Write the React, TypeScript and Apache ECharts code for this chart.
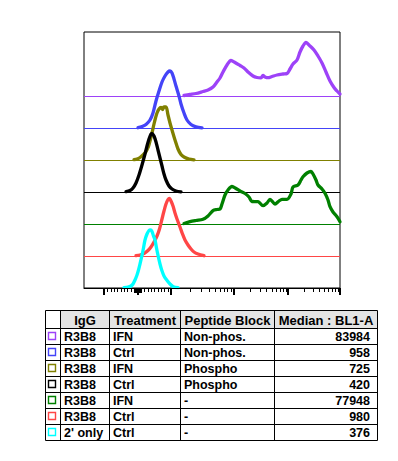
import React, { useEffect, useRef } from "react";
import * as echarts from "echarts";

// ---------- table data ----------
const tableHeaders = ["IgG", "Treatment", "Peptide Block", "Median : BL1-A"];
const igg = ["R3B8", "R3B8", "R3B8", "R3B8", "R3B8", "R3B8", "2' only"];
const treatment = ["IFN", "Ctrl", "IFN", "Ctrl", "IFN", "Ctrl", "Ctrl"];
const peptideBlock = ["Non-phos.", "Non-phos.", "Phospho", "Phospho", "-", "-", "-"];
const medianBL1A = [83984, 958, 725, 420, 77948, 980, 376];

// ---------- histogram data (x: display channel 0..256, y: counts scaled) ----------
const seriesColors = ["#9D42F8", "#4444F8", "#808000", "#000000", "#008000", "#FF4646", "#00FFFF"];
const seriesOffsets = [192, 160, 128, 96, 64, 32, 0];

const purpleCurve: number[][] = [
  [100, 0.5], [106, 1.5], [112, 2.5], [119, 4.5], [124, 6], [129, 9], [133, 14], [136, 18], [139, 24],
  [143, 31], [147, 35.5], [151, 33.5], [156, 30.5], [160, 28], [164, 24], [169, 20], [173, 18.5],
  [177, 18.2], [179, 20.5], [181, 19], [184, 18.3], [188, 19.5], [193, 21], [199, 22], [203, 22.5],
  [206, 27], [209, 32], [213, 36], [216, 44], [219, 50], [222, 53.5], [226, 50], [230, 46], [234, 40],
  [238, 33], [242, 24], [246, 15], [250, 8.5], [253, 5], [256, 2],
];
const blueCurve: number[][] = [
  [54, 0.3], [58, 1.5], [62, 3.5], [66, 8], [69, 15], [72, 27], [75, 37], [78, 46], [81, 52], [84, 56],
  [86, 57], [88, 55], [90, 49], [92, 42], [95, 32], [97, 24], [100, 15], [103, 8], [107, 3.5],
  [112, 1.2], [118, 0.2],
];
const oliveCurve: number[][] = [
  [50, 0.3], [53, 1], [56, 2.5], [59, 5], [62, 8.5], [64.5, 13.5], [66, 19], [68, 27], [70, 36],
  [71.5, 42], [73, 47], [75, 51], [77, 52.5], [78.5, 50.5], [80, 53], [82, 53], [84, 45], [86, 37],
  [88, 30], [91, 20], [94, 11], [97, 5.5], [100, 3], [105, 1], [110, 0.2],
];
const blackCurve: number[][] = [
  [42, 0.3], [46, 1.5], [49, 4], [52, 9], [55, 17], [58, 27], [61, 38], [63, 46], [65, 53], [67, 58],
  [68, 58.7], [70, 56], [72, 50], [74, 42], [76, 34], [78, 26], [80, 18], [82, 12], [85, 6], [88, 3],
  [92, 1], [97, 0.2],
];
const greenCurve: number[][] = [
  [100, 0.5], [106, 2.3], [112, 3.5], [119, 4.7], [124, 8], [129, 13.3], [133, 14.5], [136, 15],
  [138, 20], [141, 29], [144, 34], [148, 37.5], [152, 35.5], [156, 33], [161, 30.5], [165, 27],
  [168, 22.5], [174, 22.3], [179, 18.3], [183, 21], [186, 24.7], [191, 20], [195, 23], [198, 24.7],
  [203, 24.7], [207, 30], [209, 37], [214, 39], [217, 44], [219, 47.3], [223, 51], [227, 52.5],
  [229, 50], [232, 44], [234, 39], [238, 35], [241, 30.7], [244, 24], [246, 17.3], [249, 12],
  [253, 7.3], [256, 2.3],
];
const redCurve: number[][] = [
  [52, 0.3], [56, 1], [60, 2.5], [64, 5.5], [67, 9], [70, 14], [73, 20], [75.5, 27], [78, 37],
  [80, 45], [82, 52], [84, 56.5], [85.5, 57.7], [87, 55], [89, 50], [91, 43], [93, 37], [96, 29],
  [98.5, 22], [101, 16], [104, 11], [107, 7], [110, 4], [114, 2], [120, 0.3],
];
const cyanCurve: number[][] = [
  [40, 0.3], [44, 0.8], [47, 2], [49, 4], [51, 8], [53, 13], [54.5, 18], [56, 24], [57.7, 31.3],
  [59.5, 40], [61, 48], [63, 54], [65, 57.5], [66.5, 58], [68, 56.5], [69.5, 52], [71, 48],
  [72.5, 40], [74.3, 31.3], [76, 24], [77.7, 18], [80, 12], [82.7, 8], [86, 4], [89.3, 1.3], [94, 0.3],
];
const curves = [purpleCurve, blueCurve, oliveCurve, blackCurve, greenCurve, redCurve, cyanCurve];

// ---------- axis ticks (fluorescence units, biexponential display) ----------
const majorTicks = [-1000, 0, 1000, 10000, 100000, 1000000];
const linearMinorTicks = [
  -900, -800, -700, -600, -500, -400, -300, -200, -100, 100, 200, 300, 400, 500, 600, 700, 800, 900,
];
const zeroRegionTicks = [-90, -80, -70, -60, -50, -40, -30, -20, -10, 10, 20, 30, 40, 50, 60, 70, 80, 90];
const logMinorTicks = [
  2000, 3000, 4000, 5000, 6000, 7000, 8000, 9000,
  20000, 30000, 40000, 50000, 60000, 70000, 80000, 90000,
  200000, 300000, 400000, 500000, 600000, 700000, 800000, 900000,
];

// display transform: linear around zero, log decades above 10^3
const decadeAnchors: Record<number, number> = { 3: 87, 4: 149.5, 5: 204, 6: 256 };
function toDisplay(v: number): number {
  if (Math.abs(v) <= 1000) return 53.5 + v * 0.0335;
  const lg = Math.log10(v);
  const k = Math.floor(lg + 1e-9);
  if (k >= 6) return decadeAnchors[6];
  return decadeAnchors[k] + (decadeAnchors[k + 1] - decadeAnchors[k]) * (lg - k);
}

// ---------- layout ----------
const GRID = { left: 84, top: 32, width: 256, height: 256 };
const CRISP = 0.5;
const colEdges = [45.5, 60.5, 109.5, 180.5, 274.5, 377.5];
const tableTop = 310.5;
const headerH = 18;
const rowH = 16;
const FONT = '"Liberation Sans", Arial, sans-serif';

function buildTable(): any[] {
  const els: any[] = [];
  const nRows = igg.length;
  const bottom = tableTop + headerH + rowH * nRows;
  els.push({
    type: "rect",
    shape: { x: colEdges[1], y: tableTop, width: colEdges[5] - colEdges[1], height: headerH },
    style: { fill: "#E4E4E4" },
    z: 1,
  });
  const rowLines = [tableTop, tableTop + headerH];
  for (let i = 1; i <= nRows; i++) rowLines.push(tableTop + headerH + rowH * i);
  rowLines.forEach((y) =>
    els.push({
      type: "line",
      shape: { x1: colEdges[0], y1: y, x2: colEdges[5], y2: y },
      style: { stroke: "#000", lineWidth: 1 },
      z: 3,
    })
  );
  colEdges.forEach((x) =>
    els.push({
      type: "line",
      shape: { x1: x, y1: tableTop, x2: x, y2: bottom },
      style: { stroke: "#000", lineWidth: 1 },
      z: 3,
    })
  );
  const textStyle = { fontSize: 12.5, fontWeight: "bold", fontFamily: FONT, fill: "#000" };
  tableHeaders.forEach((h, i) => {
    els.push({
      type: "text",
      style: {
        ...textStyle,
        fontSize: 13,
        text: h,
        x: (colEdges[i + 1] + colEdges[i + 2]) / 2,
        y: tableTop + headerH / 2 + 0.5,
        textAlign: "center",
        textVerticalAlign: "middle",
      },
      z: 4,
    });
  });
  for (let r = 0; r < nRows; r++) {
    const top = tableTop + headerH + rowH * r;
    const cy = top + rowH / 2 + 0.3;
    els.push({
      type: "rect",
      shape: { x: 48.5, y: top + 4, width: 7, height: 7 },
      style: { fill: "none", stroke: seriesColors[r], lineWidth: 1.4 },
      z: 4,
    });
    const cells = [igg[r], treatment[r], peptideBlock[r]];
    cells.forEach((c, i) => {
      els.push({
        type: "text",
        style: {
          ...textStyle,
          text: c,
          x: colEdges[i + 1] + 3.5,
          y: cy,
          textAlign: "left",
          textVerticalAlign: "middle",
        },
        z: 4,
      });
    });
    els.push({
      type: "text",
      style: {
        ...textStyle,
        text: String(medianBL1A[r]),
        x: colEdges[5] - 7.5,
        y: cy,
        textAlign: "right",
        textVerticalAlign: "middle",
      },
      z: 4,
    });
  }
  return els;
}

function buildTickData(): number[][] {
  const d: number[][] = [];
  majorTicks.forEach((v) => d.push([toDisplay(v), 7, 2]));
  linearMinorTicks.forEach((v) => d.push([toDisplay(v), 4, 1]));
  zeroRegionTicks.forEach((v) => d.push([toDisplay(v), 5, 1]));
  logMinorTicks.forEach((v) => d.push([toDisplay(v), 4, 1]));
  return d;
}

export default function App() {
  const ref = useRef<HTMLDivElement>(null);
  useEffect(() => {
    if (!ref.current) return;
    const chart = echarts.init(ref.current, undefined, { renderer: "svg" });
    const series: any[] = [];
    curves.forEach((curve, i) => {
      const off = seriesOffsets[i];
      series.push({
        type: "line",
        name: "base" + i,
        data: [
          [0, off - CRISP],
          [256, off - CRISP],
        ],
        symbol: "none",
        silent: true,
        lineStyle: { color: seriesColors[i], width: 1 },
        z: 2 + i * 2,
      });
      series.push({
        type: "line",
        name: "hist" + i,
        data: curve.map((p) => [p[0], off + p[1]]),
        symbol: "none",
        smooth: 0.3,
        silent: true,
        lineStyle: { color: seriesColors[i], width: 3.3, cap: "round", join: "round" },
        z: 3 + i * 2,
      });
    });
    series.push({
      type: "custom",
      name: "ticks",
      silent: true,
      clip: false,
      data: buildTickData(),
      renderItem: (_params: any, api: any) => {
        const p = api.coord([api.value(0), 0]);
        const w = api.value(2);
        const x = w === 1 ? Math.round(p[0]) + 0.5 : Math.round(p[0]);
        return {
          type: "line",
          shape: { x1: x, y1: p[1], x2: x, y2: p[1] + api.value(1) },
          style: { stroke: "#000", lineWidth: w },
        };
      },
      z: 30,
    });
    chart.setOption({
      animation: false,
      backgroundColor: "#fff",
      grid: {
        ...GRID,
        show: true,
        borderColor: "#000",
        borderWidth: 1,
        backgroundColor: "transparent",
      },
      xAxis: {
        type: "value",
        min: 0,
        max: 256,
        z: 20,
        axisLine: { show: true, onZero: false, lineStyle: { color: "#000", width: 1 } },
        axisTick: { show: false },
        axisLabel: { show: false },
        splitLine: { show: false },
      },
      yAxis: {
        type: "value",
        min: 0,
        max: 256,
        axisLine: { show: false },
        axisTick: { show: false },
        axisLabel: { show: false },
        splitLine: { show: false },
      },
      series,
      graphic: buildTable(),
    });
    return () => chart.dispose();
  }, []);
  return (
    <div
      ref={ref}
      style={{ position: "absolute", left: 0, top: 0, width: 398, height: 461, background: "#fff" }}
    />
  );
}
